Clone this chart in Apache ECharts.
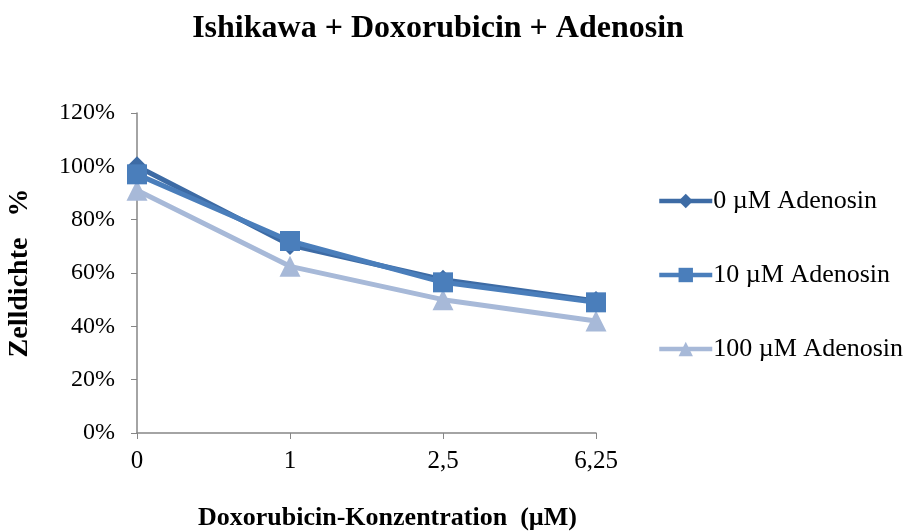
<!DOCTYPE html>
<html>
<head>
<meta charset="utf-8">
<script src="https://cdn.jsdelivr.net/npm/echarts@6/dist/echarts.min.js"></script>
<style>html,body{margin:0;padding:0;background:#fff}#c{width:904px;height:532px}</style>
</head>
<body>
<div id="c"></div>
<script>
var categories = ['0', '1', '2,5', '6,25'];
var series0 = [100, 70.5, 57.5, 49.5];
var series10 = [97, 72, 56.5, 49];
var series100 = [91, 62.5, 50, 42];
var seriesNames = ['0 µM Adenosin', '10 µM Adenosin', '100 µM Adenosin'];

var font = 'Liberation Serif, Times New Roman, serif';
var chart = echarts.init(document.getElementById('c'), null, {renderer: 'canvas'});
chart.setOption({
  animation: false,
  backgroundColor: '#fff',
  title: {
    text: 'Ishikawa + Doxorubicin + Adenosin',
    left: 433, top: 8, textAlign: 'center',
    textStyle: {fontFamily: font, fontSize: 32, fontWeight: 'bold', color: '#000'}
  },
  legend: {
    orient: 'vertical',
    left: 652, top: 183,
    itemWidth: 53, itemHeight: 18,
    itemGap: 48,
    lineStyle: {width: 4.5},
    textStyle: {fontFamily: font, fontSize: 26, color: '#000', padding: [0, 0, 0, -4]},
    data: seriesNames
  },
  grid: {left: 137, right: 308, top: 113, bottom: 99, outerBoundsMode: 'none'},
  xAxis: {
    type: 'category', boundaryGap: false, data: categories,
    name: 'Doxorubicin-Konzentration  (µM)', nameLocation: 'middle', nameGap: 72,
    nameTextStyle: {fontFamily: font, fontSize: 26, fontWeight: 'bold', color: '#000', padding: [0, 0, 0, 42]},
    axisLine: {lineStyle: {color: '#868686', width: 1.5}},
    axisTick: {alignWithLabel: true, length: 6, lineStyle: {color: '#868686'}},
    axisLabel: {fontFamily: font, fontSize: 25, color: '#000', margin: 16}
  },
  yAxis: {
    type: 'value', min: 0, max: 120, interval: 20,
    name: 'Zelldichte   %', nameLocation: 'middle', nameGap: 103, nameRotate: 90,
    nameTextStyle: {fontFamily: font, fontSize: 28, fontWeight: 'bold', color: '#000'},
    axisLine: {show: true, lineStyle: {color: '#868686', width: 1.5}},
    axisTick: {show: true, length: 6, lineStyle: {color: '#868686'}},
    splitLine: {show: false},
    axisLabel: {fontFamily: font, fontSize: 24, color: '#000', margin: 22, formatter: '{value}%'}
  },
  series: [
    {name: seriesNames[0], type: 'line', data: series0, symbol: 'diamond', symbolSize: 20,
     lineStyle: {width: 5, color: '#3D6BA5'}, itemStyle: {color: '#3D6BA5'}, z: 3},
    {name: seriesNames[1], type: 'line', data: series10, symbol: 'rect', symbolSize: 20,
     lineStyle: {width: 5, color: '#4A7EBB'}, itemStyle: {color: '#4A7EBB'}, z: 4},
    {name: seriesNames[2], type: 'line', data: series100, symbol: 'triangle', symbolSize: 21,
     lineStyle: {width: 5, color: '#A7B9D8'}, itemStyle: {color: '#A7B9D8'}, z: 2}
  ]
});
</script>
</body>
</html>
